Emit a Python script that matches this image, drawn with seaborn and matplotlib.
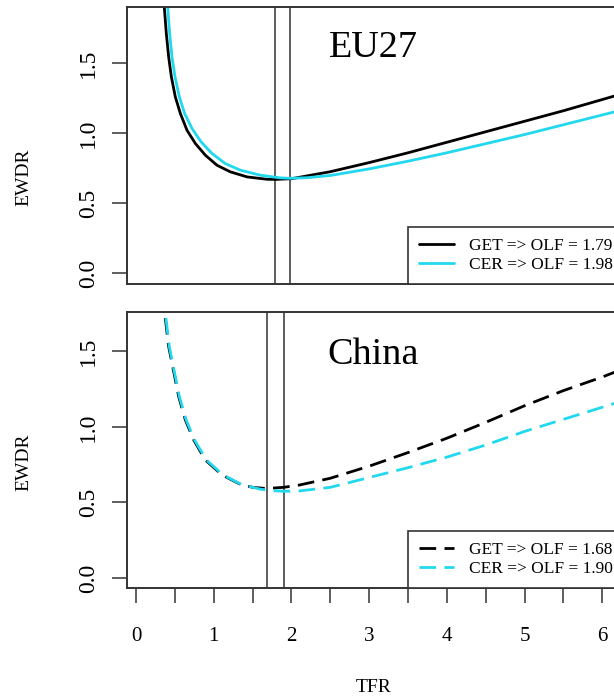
import matplotlib
matplotlib.use("Agg")
import matplotlib.pyplot as plt
import pandas as pd
import seaborn as sns

# EU27, GET (black) and CER (cyan)
eu_get_tfr = [0.364, 0.390, 0.420, 0.455, 0.506, 0.571, 0.656, 0.764, 0.892, 1.042, 1.214,
              1.429, 1.686, 1.79, 2.00, 2.50, 3.00, 3.50, 4.00, 4.50, 5.00, 5.50, 6.00, 6.25]
eu_get_ewdr = [1.902, 1.712, 1.545, 1.402, 1.259, 1.140, 1.021, 0.926, 0.843, 0.771, 0.724,
               0.688, 0.671, 0.670, 0.675, 0.725, 0.790, 0.860, 0.935, 1.010, 1.085, 1.160, 1.240, 1.280]
eu_cer_tfr = [0.408, 0.433, 0.463, 0.502, 0.558, 0.626, 0.721, 0.837, 0.978, 1.149, 1.342,
              1.600, 1.857, 1.98, 2.20, 2.50, 3.00, 3.50, 4.00, 4.50, 5.00, 5.50, 6.00, 6.25]
eu_cer_ewdr = [1.902, 1.712, 1.545, 1.402, 1.259, 1.140, 1.033, 0.938, 0.855, 0.783, 0.736,
               0.700, 0.681, 0.678, 0.682, 0.698, 0.745, 0.800, 0.860, 0.925, 0.990, 1.060, 1.130, 1.165]

# China, GET (black dashed) and CER (cyan dashed)
cn_get_tfr = [0.377, 0.420, 0.485, 0.549, 0.635, 0.742, 0.892, 1.107, 1.343, 1.50, 1.68,
              1.90, 2.10, 2.50, 3.00, 3.50, 4.00, 4.50, 5.00, 5.50, 6.00, 6.25]
cn_get_ewdr = [1.720, 1.532, 1.366, 1.201, 1.046, 0.914, 0.781, 0.682, 0.620, 0.600, 0.592,
               0.600, 0.615, 0.660, 0.740, 0.830, 0.925, 1.030, 1.140, 1.240, 1.330, 1.380]
cn_cer_tfr = [0.385, 0.428, 0.493, 0.558, 0.645, 0.752, 0.905, 1.120, 1.360, 1.60, 1.75,
              1.90, 2.10, 2.50, 3.00, 3.50, 4.00, 4.50, 5.00, 5.50, 6.00, 6.25]
cn_cer_ewdr = [1.720, 1.532, 1.366, 1.201, 1.046, 0.914, 0.781, 0.682, 0.618, 0.588, 0.578,
               0.574, 0.576, 0.600, 0.665, 0.730, 0.800, 0.880, 0.970, 1.050, 1.130, 1.170]

eu_olf = [1.79, 1.98]
cn_olf = [1.68, 1.90]

x_ticks = [0, 0.5, 1, 1.5, 2, 2.5, 3, 3.5, 4, 4.5, 5, 5.5, 6]
x_labels = ["0", "", "1", "", "2", "", "3", "", "4", "", "5", "", "6"]
y_ticks = [0.0, 0.5, 1.0, 1.5]
y_labels = ["0.0", "0.5", "1.0", "1.5"]

BLACK = "black"
CYAN = "#22d8ee"
EDGE = "#333333"

sns.set_style("white")
plt.rcParams["font.family"] = ["Liberation Serif", "DejaVu Serif"]
plt.rcParams["text.color"] = "black"
plt.rcParams["axes.labelcolor"] = "black"
plt.rcParams["xtick.color"] = "black"
plt.rcParams["ytick.color"] = "black"

fig = plt.figure(figsize=(6.14, 7.0), dpi=100)
ax_top = fig.add_axes([0.2068, 0.5943, 0.8032, 0.3957])
ax_bot = fig.add_axes([0.2068, 0.16, 0.8032, 0.3943])


def draw_panel(ax, get_x, get_y, cer_x, cer_y, olf, title, title_y, ylim, ylab_y,
               dashed, show_x):
    get_df = pd.DataFrame({"TFR": get_x, "EWDR": get_y})
    cer_df = pd.DataFrame({"TFR": cer_x, "EWDR": cer_y})
    ls = (0, (6, 3)) if dashed else "-"
    sns.lineplot(data=get_df, x="TFR", y="EWDR", ax=ax, color=BLACK, lw=2.0,
                 linestyle=ls, sort=False, estimator=None,
                 label=f"GET => OLF = {olf[0]:.2f}")
    sns.lineplot(data=cer_df, x="TFR", y="EWDR", ax=ax, color=CYAN, lw=2.0,
                 linestyle=ls, sort=False, estimator=None,
                 label=f"CER => OLF = {olf[1]:.2f}")
    for v in olf:
        ax.axvline(v, color=EDGE, lw=1.1, zorder=1)

    ax.set_xlim(-0.116, 6.229)
    ax.set_ylim(*ylim)
    ax.set_yticks(y_ticks)
    ax.set_yticklabels(y_labels, rotation=90, va="center", fontsize=17)
    ax.tick_params(axis="y", length=11, width=1.1, color=EDGE, pad=9, left=True)
    ax.set_ylabel("EWDR", fontsize=14)
    ax.yaxis.set_label_coords(-0.191, ylab_y)
    if show_x:
        ax.set_xticks(x_ticks)
        ax.set_xticklabels(x_labels, fontsize=15)
        ax.tick_params(axis="x", length=11, width=1.1, color=EDGE, pad=17, bottom=True)
        ax.set_xlabel("TFR", fontsize=14, labelpad=24)
    else:
        ax.set_xticks([])
        ax.set_xlabel("")
    for sp in ax.spines.values():
        sp.set_color(EDGE)
        sp.set_linewidth(1.4)

    ax.text(3.05, title_y, title, fontsize=27.5, ha="center", va="center")

    leg = ax.legend(loc="lower right", bbox_to_anchor=(1.008, 0.0), borderaxespad=0,
                    fontsize=12.5, handlelength=2.0, handletextpad=0.85, borderpad=0.65,
                    labelspacing=0.15, fancybox=False, framealpha=1)
    leg.get_frame().set_edgecolor(EDGE)
    leg.get_frame().set_linewidth(1.2)


draw_panel(ax_top, eu_get_tfr, eu_get_ewdr, eu_cer_tfr, eu_cer_ewdr, eu_olf,
           "EU27", 1.61, (-0.076, 1.90), 0.386, False, False)
draw_panel(ax_bot, cn_get_tfr, cn_get_ewdr, cn_cer_tfr, cn_cer_ewdr, cn_olf,
           "China", 1.48, (-0.066, 1.76), 0.457, True, True)

fig.savefig("out.png", dpi=100)
plt.close(fig)
